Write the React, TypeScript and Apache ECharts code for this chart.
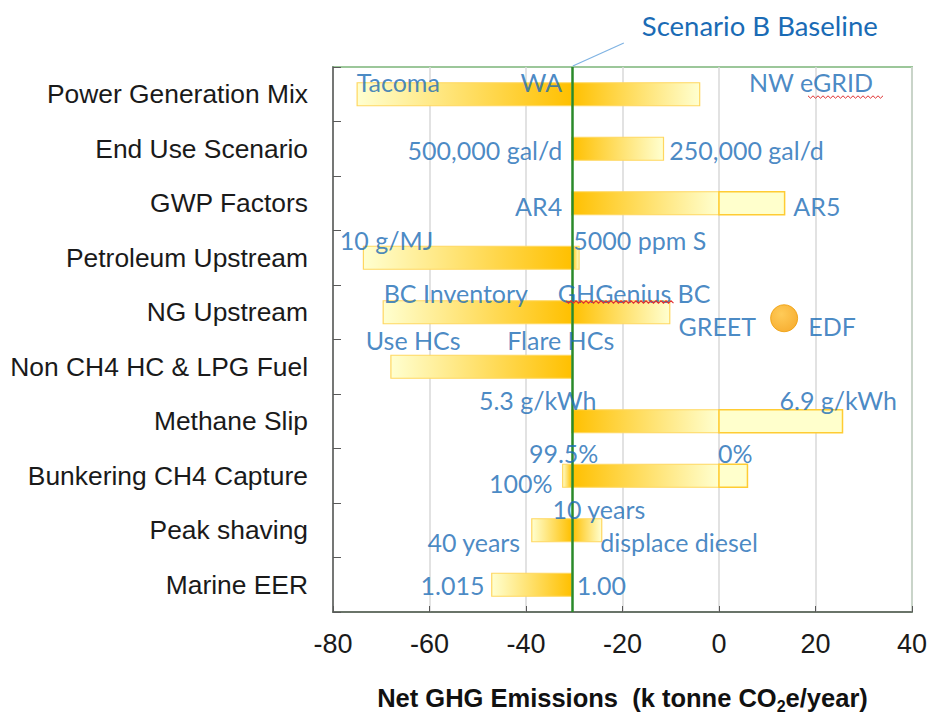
import React, { useEffect, useRef } from "react";
import * as echarts from "echarts";

const categories = [
  "Power Generation Mix",
  "End Use Scenario",
  "GWP Factors",
  "Petroleum Upstream",
  "NG Upstream",
  "Non CH4 HC & LPG Fuel",
  "Methane Slip",
  "Bunkering CH4 Capture",
  "Peak shaving",
  "Marine EER",
];

const baseline = -30.5;
const lowValues = [-75, -30.5, -30.5, -73.7, -69.6, -68, -30.5, -32.4, -38.8, -47.1];
const highValues = [-4, -11.5, 13.6, -29, -10.2, -30.5, 25.6, 5.9, -24.3, -30.5];

const edfValue = 13.5;
const edfRow = 4;

const xTicks = { min: -80, max: 40, interval: 20 };

// annotation texts: [text, anchor value, row, vertical shift, side]
const annotations: [string, number, number, number, string][] = [
  ["Tacoma", -75.1, 0, -12, "right"],
  ["WA", -32.5, 0, -12, "left"],
  ["NW eGRID", 6.2, 0, -12, "right"],
  ["500,000 gal/d", -32.5, 1, 1.5, "left"],
  ["250,000 gal/d", -10.3, 1, 1.5, "right"],
  ["AR4", -32.5, 2, 2.5, "left"],
  ["AR5", 15.4, 2, 2.5, "right"],
  ["10 g/MJ", -78.6, 3, -17.5, "right"],
  ["5000 ppm S", -30.2, 3, -17.5, "right"],
  ["BC Inventory", -69.5, 4, -19.5, "right"],
  ["GHGenius BC", -33.4, 4, -19.5, "right"],
  ["GREET", -8.4, 4, 13.5, "right"],
  ["EDF", 18.5, 4, 13.5, "right"],
  ["Use HCs", -73.2, 5, -26.5, "right"],
  ["Flare HCs", -43.9, 5, -26.5, "right"],
  ["5.3 g/kWh", -25.4, 6, -21.5, "left"],
  ["6.9 g/kWh", 36.9, 6, -21.5, "left"],
  ["99.5%", -25.0, 7, -22.5, "left"],
  ["0%", -0.2, 7, -22.5, "right"],
  ["100%", -34.5, 7, 7.5, "left"],
  ["10 years", -34.5, 8, -21.5, "right"],
  ["40 years", -41.2, 8, 11.5, "left"],
  ["displace diesel", -24.6, 8, 11.5, "right"],
  ["1.015", -48.6, 9, 0.5, "left"],
  ["1.00", -29.5, 9, 0.5, "right"],
];

const baselineLabel = "Scenario B Baseline";
const xAxisTitle = "{b|Net GHG Emissions  (k tonne CO}{s|2}{b|e/year)}";

const ORANGE = "#FFC000";
const PALE = "#FFFFD0";
const EDGE = "#FFD760";
const BLUE = "#1A6BB5";
const LABEL_FONT = "Lato";
const AXIS_FONT = "'Liberation Sans', Arial, sans-serif";

// spell-check squiggle decoration under two labels (pixel placement of decoration only)
function squiggle(x0: number, x1: number, y: number) {
  const pts: number[][] = [];
  let up = true;
  for (let x = x0; x <= x1; x += 2.5) {
    pts.push([x, up ? y - 1.2 : y + 1.2]);
    up = !up;
  }
  return pts;
}

export default function App() {
  const ref = useRef<HTMLDivElement>(null);

  useEffect(() => {
    document.body.style.margin = "0";
    if (!ref.current) return;
    const chart = echarts.init(ref.current, undefined, { renderer: "svg" });

    const barData = categories.map((_, i) => [i, lowValues[i], highValues[i]]);

    const renderItem = (params: any, api: any) => {
      const idx = api.value(0);
      const low = api.value(1);
      const high = api.value(2);
      const pBase = api.coord([baseline, idx]);
      const pLow = api.coord([low, idx]);
      const pHigh = api.coord([high, idx]);
      const pZero = api.coord([0, idx]);
      const h = 23;
      const y = pBase[1] - h / 2;
      const children: any[] = [];
      if (low < baseline) {
        children.push({
          type: "rect",
          shape: { x: pLow[0], y, width: pBase[0] - pLow[0], height: h },
          style: {
            fill: new echarts.graphic.LinearGradient(0, 0, 1, 0, [
              { offset: 0, color: PALE },
              { offset: 1, color: ORANGE },
            ]),
            stroke: EDGE,
            lineWidth: 1.2,
          },
        });
      }
      if (high > baseline) {
        const endX = high > 0 ? pZero[0] : pHigh[0];
        children.push({
          type: "rect",
          shape: { x: pBase[0], y, width: endX - pBase[0], height: h },
          style: {
            fill: new echarts.graphic.LinearGradient(0, 0, 1, 0, [
              { offset: 0, color: ORANGE },
              { offset: 1, color: PALE },
            ]),
            stroke: EDGE,
            lineWidth: 1.2,
          },
        });
        if (high > 0) {
          children.push({
            type: "rect",
            shape: { x: pZero[0], y, width: pHigh[0] - pZero[0], height: h },
            style: { fill: "#FFFFCC", stroke: "#FFCC33", lineWidth: 1.5 },
          });
        }
      }
      return { type: "group", children };
    };

    const labelData = annotations.map(([text, x, row, dy, side]) => ({
      name: text,
      value: [x, row],
      label: {
        show: true,
        position: side,
        distance: 0,
        offset: [0, dy],
        formatter: text,
      },
    }));

    chart.setOption({
      animation: false,
      grid: {
        left: 333,
        right: 14,
        top: 67,
        bottom: 98,
        show: true,
        borderColor: "#9CC79A",
        borderWidth: 2,
      },
      xAxis: {
        type: "value",
        min: xTicks.min,
        max: xTicks.max,
        interval: xTicks.interval,
        axisLine: { show: true, onZero: false, lineStyle: { color: "#595959", width: 1.5 } },
        axisTick: { show: true, inside: true, length: 6, lineStyle: { color: "#595959" } },
        axisLabel: {
          fontSize: 27,
          color: "#1a1a1a",
          fontFamily: AXIS_FONT,
          margin: 18,
        },
        splitLine: { show: true, lineStyle: { color: "#D9D9D9", width: 1.5 } },
        name: xAxisTitle,
        nameLocation: "middle",
        nameGap: 70,
        nameTextStyle: {
          rich: {
            b: {
              fontSize: 25.5,
              fontWeight: "bold",
              fontFamily: AXIS_FONT,
              color: "#111",
              lineHeight: 32,
              verticalAlign: "middle",
            },
            s: {
              fontSize: 16,
              fontWeight: "bold",
              fontFamily: AXIS_FONT,
              color: "#111",
              lineHeight: 32,
              verticalAlign: "bottom",
            },
          },
        },
      },
      yAxis: {
        type: "category",
        data: categories,
        inverse: true,
        axisLine: { show: true, onZero: false, lineStyle: { color: "#595959", width: 1.5 } },
        axisTick: { show: true, inside: true, length: 8, lineStyle: { color: "#595959" } },
        axisLabel: {
          fontSize: 26.4,
          color: "#1a1a1a",
          fontFamily: AXIS_FONT,
          margin: 25,
        },
        splitLine: { show: false },
      },
      series: [
        {
          type: "custom",
          renderItem,
          data: barData,
          encode: { x: [1, 2], y: 0 },
          z: 2,
          markLine: {
            silent: true,
            symbol: "none",
            label: { show: false },
            lineStyle: { color: "#2A8A2A", width: 2.5, type: "solid" },
            data: [{ xAxis: baseline }],
            z: 5,
          },
        },
        {
          type: "scatter",
          data: [[edfValue, edfRow]],
          symbolSize: 27,
          symbolOffset: [0, 6],
          z: 4,
          itemStyle: {
            color: new echarts.graphic.RadialGradient(0.4, 0.35, 0.7, [
              { offset: 0, color: "#FFBE2E" },
              { offset: 1, color: "#F59B00" },
            ]),
            borderColor: "#EE9A00",
            borderWidth: 1,
          },
        },
        {
          type: "scatter",
          data: labelData,
          symbolSize: 0,
          z: 6,
          label: {
            show: true,
            color: BLUE,
            fontSize: 25,
            fontFamily: LABEL_FONT,
          },
        },
      ],
    });

    const px = chart.convertToPixel({ xAxisIndex: 0, yAxisIndex: 0 }, [baseline, 0]);
    const bx = Array.isArray(px) ? px[0] : 574;
    chart.setOption({
      graphic: [
        {
          type: "line",
          z: 100,
          shape: { x1: bx + 1, y1: 66, x2: bx + 52, y2: 43 },
          style: { stroke: "#7FB3E3", lineWidth: 1.2 },
        },
        {
          type: "text",
          z: 100,
          x: bx + 70,
          y: 25,
          style: {
            text: baselineLabel,
            fill: BLUE,
            font: `27.5px ${LABEL_FONT}`,
            verticalAlign: "middle",
          },
        },
        {
          type: "polyline",
          z: 100,
          shape: { points: squiggle(808, 884, 97) },
          style: { stroke: "#E03030", lineWidth: 1, fill: "none" },
        },
        {
          type: "polyline",
          z: 100,
          shape: { points: squiggle(566, 675, 302) },
          style: { stroke: "#E03030", lineWidth: 1.1, fill: "none" },
        },
      ],
    });

    return () => chart.dispose();
  }, []);

  return <div ref={ref} style={{ width: 930, height: 719 }} />;
}
